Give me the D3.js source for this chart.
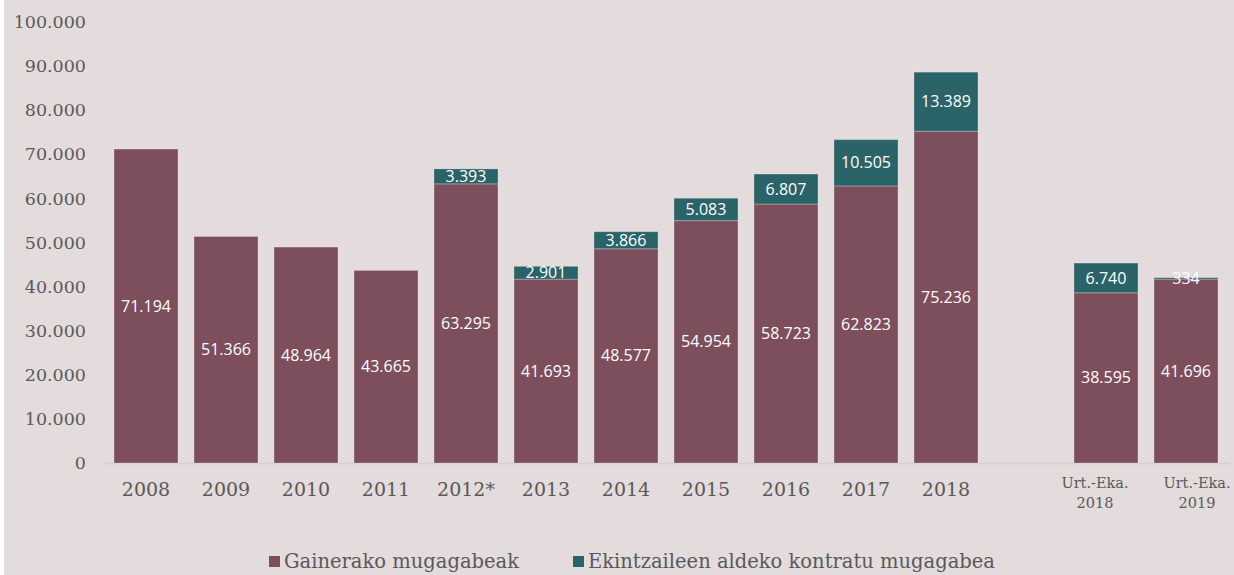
<!DOCTYPE html>
<html>
<head>
<meta charset="utf-8">
<script src="https://cdn.jsdelivr.net/npm/d3@7"></script>
<style>
body{margin:0;background:#fff;}
svg{display:block;}
</style>
</head>
<body>
<div id="chart"></div>
<script>
var categories = ["2008","2009","2010","2011","2012*","2013","2014","2015","2016","2017","2018","","Urt.-Eka.|2018","Urt.-Eka.|2019"];
var gainerako = [71194,51366,48964,43665,63295,41693,48577,54954,58723,62823,75236,null,38595,41696];
var ekintzaile = [0,0,0,0,3393,2901,3866,5083,6807,10505,13389,null,6740,334];
var yTicks = [0,10000,20000,30000,40000,50000,60000,70000,80000,90000,100000];
var seriesNames = ["Gainerako mugagabeak","Ekintzaileen aldeko kontratu mugagabea"];
var colors = ["#7d4e5b","#2a6469"];

var W = 1234, H = 575;
var serif = "'DejaVu Serif', serif";
var sans = "'Open Sans', 'Liberation Sans', sans-serif";

var loc = d3.formatLocale({decimal:",", thousands:".", grouping:[3], currency:["",""]});
var fmt = loc.format(",d");

var svg = d3.select("#chart").append("svg")
	.attr("width", W)
	.attr("height", H);

svg.append("rect")
	.attr("x",4).attr("y",0)
	.attr("width",W-4).attr("height",H)
	.attr("fill","#e3dbdc");

var x = d3.scaleBand().domain(d3.range(categories.length))
	.range([106,1226]).paddingInner(0.2).paddingOuter(0.1);
var y = d3.scaleLinear().domain([0,100000]).range([463,22]);

// y labels
svg.selectAll(".ylab").data(yTicks).enter().append("text")
	.attr("class","ylab")
	.attr("x",86)
	.attr("y",function(d){return y(d)})
	.attr("dy","0.35em")
	.attr("text-anchor","end")
	.style("font-family",serif)
	.style("font-size","17.5px")
	.attr("fill","#595959")
	.text(function(d){return fmt(d)});

// axis line
svg.append("line")
	.attr("x1",105).attr("x2",1230)
	.attr("y1",y(0)+0.5).attr("y2",y(0)+0.5)
	.attr("stroke","#d4cfcf").attr("stroke-width",1.5);

var rows = categories.map(function(c,i){
	return {i:i, cat:c, a:gainerako[i], b:ekintzaile[i]};
}).filter(function(d){return d.a!=null});

// bottom segment
svg.selectAll(".barA").data(rows).enter().append("rect")
	.attr("class","barA")
	.attr("x",function(d){return x(d.i)})
	.attr("width",x.bandwidth())
	.attr("y",function(d){return y(d.a)})
	.attr("height",function(d){return y(0)-y(d.a)})
	.attr("fill",colors[0])
	.attr("stroke","rgba(255,255,255,0.25)")
	.attr("stroke-width",1);

// top segment
svg.selectAll(".barB").data(rows.filter(function(d){return d.b>0})).enter().append("rect")
	.attr("class","barB")
	.attr("x",function(d){return x(d.i)})
	.attr("width",x.bandwidth())
	.attr("y",function(d){return y(d.a+d.b)})
	.attr("height",function(d){return y(d.a)-y(d.a+d.b)})
	.attr("fill",colors[1])
	.attr("stroke","rgba(255,255,255,0.25)")
	.attr("stroke-width",1);

// labels
svg.selectAll(".labA").data(rows).enter().append("text")
	.attr("class","labA")
	.attr("x",function(d){return x(d.i)+x.bandwidth()/2})
	.attr("y",function(d){return y(d.a/2)})
	.attr("dy","0.35em")
	.attr("text-anchor","middle")
	.style("font-family",sans)
	.style("font-size","16px")
	.attr("fill","#fff")
	.text(function(d){return fmt(d.a)});

svg.selectAll(".labB").data(rows.filter(function(d){return d.b>0})).enter().append("text")
	.attr("class","labB")
	.attr("x",function(d){return x(d.i)+x.bandwidth()/2})
	.attr("y",function(d){return y(d.a+d.b/2)})
	.attr("dy","0.35em")
	.attr("text-anchor","middle")
	.style("font-family",sans)
	.style("font-size","16px")
	.attr("fill","#fff")
	.text(function(d){return fmt(d.b)});

// x labels (the two wrapped labels sit a bit off centre, as in the original)
var wrapShift = {12:-11, 13:11};
categories.forEach(function(c,i){
	if(!c) return;
	var parts = c.split("|");
	var cx = x(i)+x.bandwidth()/2;
	var t = svg.append("text")
		.attr("x",cx)
		.attr("text-anchor","middle")
		.style("font-family",serif)
		.attr("fill","#595959");
	if(parts.length==1){
		t.attr("y",489).attr("dy","0.35em").style("font-size","19px").text(c);
	}else{
		cx += wrapShift[i] || 0;
		t.attr("y",483).attr("dy","0.35em").style("font-size","14.5px");
		t.append("tspan").attr("x",cx).text(parts[0]);
		t.append("tspan").attr("x",cx).attr("dy","1.35em").text(parts[1]);
	}
});

// legend
var legX = [269,573];
seriesNames.forEach(function(n,i){
	svg.append("rect")
		.attr("x",legX[i]).attr("y",556)
		.attr("width",11).attr("height",11)
		.attr("fill",colors[i]);
	svg.append("text")
		.attr("x",legX[i]+15).attr("y",561)
		.attr("dy","0.35em")
		.style("font-family",serif)
		.style("font-size","19.5px")
		.attr("fill","#595959")
		.text(n);
});
</script>
</body>
</html>
